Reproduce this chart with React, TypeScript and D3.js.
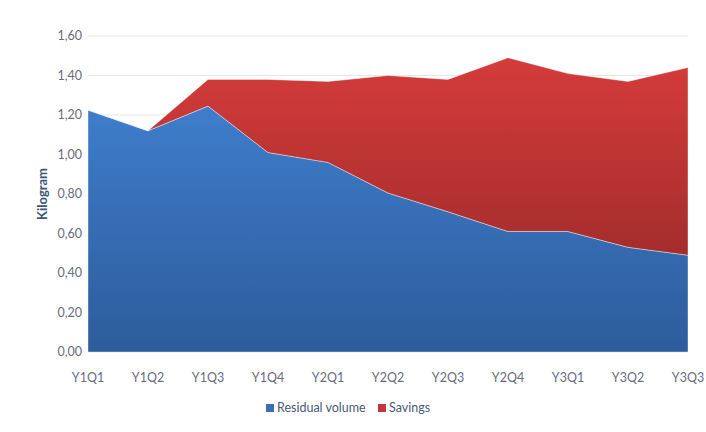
import React from "react";
import * as d3 from "d3";

const categories = ["Y1Q1","Y1Q2","Y1Q3","Y1Q4","Y2Q1","Y2Q2","Y2Q3","Y2Q4","Y3Q1","Y3Q2","Y3Q3"];
const residualVolume = [1.225, 1.12, 1.245, 1.01, 0.96, 0.805, 0.71, 0.61, 0.61, 0.53, 0.49];
const savings = [0, 0, 0.135, 0.37, 0.41, 0.595, 0.67, 0.88, 0.80, 0.84, 0.95];
const yTicks = [0, 0.2, 0.4, 0.6, 0.8, 1.0, 1.2, 1.4, 1.6];
const seriesNames = ["Residual volume", "Savings"];

const W = 706, H = 432;
const plot = { left: 88, right: 688, top: 36, bottom: 352 };

export default function App() {
  const x = d3.scalePoint<string>().domain(categories).range([plot.left, plot.right]);
  const y = d3.scaleLinear().domain([0, 1.6]).range([plot.bottom, plot.top]);
  const table = categories.map((c, i) => ({ cat: c, residual: residualVolume[i], savings: savings[i] }));
  const stack = d3.stack<any>().keys(["residual", "savings"]);
  const layers = stack(table);
  const area = d3.area<any>()
    .x((d) => x(d.data.cat) as number)
    .y0((d) => y(d[0]))
    .y1((d) => y(d[1]));
  const fmt = (v: number) => v.toFixed(2).replace(".", ",");
  const font = "Lato, 'Open Sans', sans-serif";
  const fills = ["url(#gBlue)", "url(#gRed)"];
  const legendColors = ["#3a6db5", "#c0393a"];

  return (
    <svg width={W} height={H} style={{ position: "absolute", left: 0, top: 0, background: "#fff" }}>
      <defs>
        <linearGradient id="gBlue" x1="0" y1="0" x2="0" y2="1">
          <stop offset="0" stopColor="#3f7dcb" />
          <stop offset="1" stopColor="#2c5c9b" />
        </linearGradient>
        <linearGradient id="gRed" x1="0" y1="0" x2="0" y2="1">
          <stop offset="0" stopColor="#d43c3a" />
          <stop offset="1" stopColor="#a52d2d" />
        </linearGradient>
      </defs>
      {yTicks.map((t) => (
        <g key={t}>
          <line x1={plot.left} x2={plot.right} y1={y(t)} y2={y(t)} stroke="#e6e6e6" strokeWidth={1} />
          <text x={82} y={y(t)} dy="0.35em" textAnchor="end" fontFamily={font} fontSize={12.5} fill="#6b6b7b">
            {fmt(t)}
          </text>
        </g>
      ))}
      {layers.map((layer, i) => (
        <path key={layer.key} d={area(layer as any) || ""} fill={fills[i]} stroke="#ffffff" strokeOpacity={0.5} strokeWidth={0.8} />
      ))}
      {categories.map((c) => (
        <text key={c} x={x(c)} y={382} textAnchor="middle" fontFamily={font} fontSize={12.5} fill="#6b6b7b">
          {c}
        </text>
      ))}
      <text transform={`translate(47,${(plot.top + plot.bottom) / 2}) rotate(-90)`} textAnchor="middle"
        fontFamily={font} fontSize={13} fontWeight="bold" fill="#3c5478">
        Kilogram
      </text>
      <g>
        <rect x={266} y={404} width={8} height={8} fill={legendColors[0]} />
        <text x={277} y={412} fontFamily={font} fontSize={12.5} fill="#4a5a78">{seriesNames[0]}</text>
        <rect x={378} y={404} width={8} height={8} fill={legendColors[1]} />
        <text x={389} y={412} fontFamily={font} fontSize={12.5} fill="#4a5a78">{seriesNames[1]}</text>
      </g>
    </svg>
  );
}
